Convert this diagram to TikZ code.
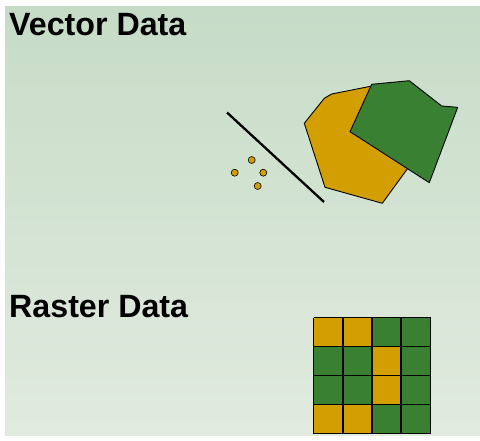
\documentclass[tikz,border=0pt]{standalone}
\usepackage{fontspec}
\setmainfont{Liberation Sans}
\definecolor{bgtop}{RGB}{198,220,199}
\definecolor{bgbot}{RGB}{225,234,223}
\definecolor{ora}{RGB}{210,158,0}
\definecolor{grn}{RGB}{58,128,50}
\tikzset{
  title/.style={anchor=base west,inner sep=0pt,font=\fontsize{32.2}{32}\selectfont\bfseries},
  poly/.style={draw=black,line width=0.9pt,line join=round},
  gridline/.style={line width=1.9pt},
  pt/.style={circle,draw=black,line width=0.6pt,fill=ora,minimum size=7pt,inner sep=0pt}
}
\begin{document}
\begin{tikzpicture}[x=1pt,y=-1pt]
\useasboundingbox (0,0) rectangle (480,440);
\shade[top color=bgtop,bottom color=bgbot] (5,6) rectangle (480,435);
\node[title] (vt) at (9,35) {Vector Data};
\node[title] (rt) at (9,317) {Raster Data};
% line
\coordinate (l1) at (227,112.5);
\coordinate (l2) at (324,202);
\draw[line width=2.3pt] (l1) -- (l2);
% points
\node[pt] (p1) at (251.7,160) {};
\node[pt] (p2) at (234.7,172.7) {};
\node[pt] (p3) at (263.3,172.7) {};
\node[pt] (p4) at (257.7,186) {};
% orange polygon
\draw[poly,fill=ora] (304.3,123.3) -- (324.3,98.3) -- (331.7,94) -- (372,86) -- (420,120) -- (408,168) -- (382.3,203.3) -- (325,187.3) -- cycle;
% green polygon
\draw[poly,fill=grn] (371.7,84.3) -- (409.3,80.7) -- (441.7,106) -- (457.7,107.3) -- (429.3,182.7) -- (350,131.7) -- cycle;
% raster grid
\foreach \r/\a/\b/\cc/\d in {0/ora/ora/grn/grn,1/grn/grn/ora/grn,2/grn/grn/ora/grn,3/ora/ora/grn/grn}{
  \foreach \c/\col in {0/\a,1/\b,2/\cc,3/\d}{
    \fill[\col] ({313.5+29.25*\c},{317.5+29*\r}) rectangle ++(29.25,29);
  }
}
\foreach \i in {0,1,2,3,4}{
  \draw[gridline] ({313.5+29.25*\i},317.5) -- ({313.5+29.25*\i},433.5);
  \draw[gridline] (313.5,{317.5+29*\i}) -- (430.5,{317.5+29*\i});
}
\end{tikzpicture}
\end{document}
